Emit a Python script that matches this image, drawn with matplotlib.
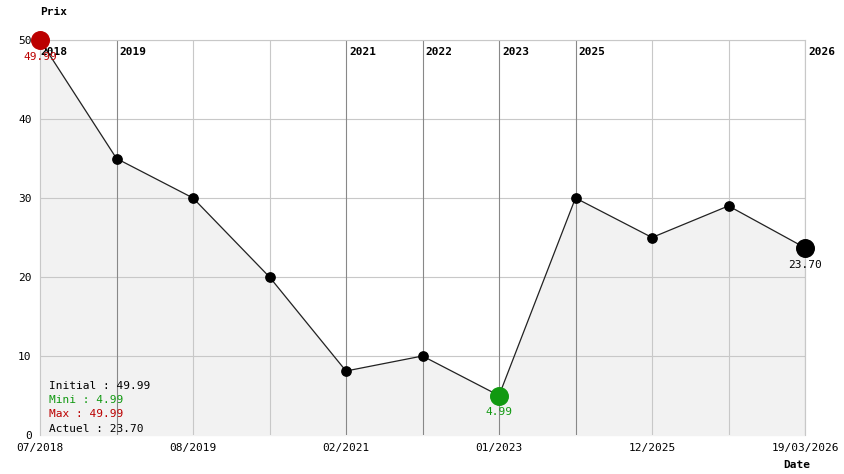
import matplotlib
matplotlib.use("Agg")
import matplotlib.pyplot as plt

prices = [49.99, 35, 30, 20, 8.1, 10, 4.99, 30, 25, 29, 23.70]
year_marks = {1: "2019", 4: "2021", 5: "2022", 6: "2023", 7: "2025", 10: "2026"}
bottom_labels = {0: "07/2018", 2: "08/2019", 4: "02/2021", 6: "01/2023", 8: "12/2025", 10: "19/03/2026"}
imin, imax, ilast = 6, 0, 10

mono = "DejaVu Sans Mono"
fig = plt.figure(figsize=(8.44, 4.74), dpi=100)
ax = fig.add_axes([40/844, 39/474, 765/844, 395/474])
x = list(range(len(prices)))

ax.fill_between(x, prices, 0, color="#f2f2f2", zorder=0)
for v in range(10, 51, 10):
    ax.axhline(v, color="#c8c8c8", lw=0.8, zorder=1)
for i in x[1:]:
    c = "#888888" if i in year_marks else "#c8c8c8"
    ax.axvline(i, color=c, lw=0.8, zorder=1)
for i, lab in year_marks.items():
    ax.text(i + 0.04, 48.5, lab, family=mono, fontsize=8, fontweight="bold", va="center")
ax.text(0.0, 48.5, "2018", family=mono, fontsize=8, fontweight="bold", va="center")

ax.plot(x, prices, color="#222222", lw=0.9, zorder=2)
ax.scatter(x, prices, s=45, color="black", zorder=3)
ax.scatter([imax], [prices[imax]], s=160, color="#bb0000", zorder=4)
ax.scatter([imin], [prices[imin]], s=160, color="#119911", zorder=4)
ax.scatter([ilast], [prices[ilast]], s=160, color="black", zorder=4)
ax.text(imax, prices[imax] - 1.5, f"{prices[imax]:.2f}", color="#bb0000", family=mono, fontsize=8, ha="center", va="top")
ax.text(imin, prices[imin] - 1.5, f"{prices[imin]:.2f}", color="#119911", family=mono, fontsize=8, ha="center", va="top")
ax.text(ilast, prices[ilast] - 1.5, f"{prices[ilast]:.2f}", color="black", family=mono, fontsize=8, ha="center", va="top")

leg = [("Initial : 49.99", "black"), ("Mini : 4.99", "#119911"),
       ("Max : 49.99", "#bb0000"), ("Actuel : 23.70", "black")]
for k, (t, c) in enumerate(leg):
    ax.text(0.12, 6.2 - k * 1.8, t, color=c, family=mono, fontsize=8, va="center")

ax.set_xlim(0, 10)
ax.set_ylim(0, 50)
ax.set_yticks(range(0, 51, 10))
ax.set_xticks(list(bottom_labels.keys()))
ax.set_xticklabels(list(bottom_labels.values()), family=mono, fontsize=8)
for lab in ax.get_yticklabels():
    lab.set_family(mono)
    lab.set_fontsize(8)
ax.tick_params(length=0, pad=6)
for s in ax.spines.values():
    s.set_color("#c8c8c8")
    s.set_linewidth(0.8)
ax.spines["bottom"].set_visible(False)
for s in ax.spines.values():
    s.set_clip_on(False)
ax.set_clip_on(False)
for c in ax.collections:
    c.set_clip_on(False)

fig.text(40/844, 1 - 12/474, "Prix", family=mono, fontsize=8, fontweight="bold", va="center")
fig.text(783/844, 9/474, "Date", family=mono, fontsize=8, fontweight="bold", va="center")
fig.savefig("out.png", dpi=100, facecolor="white")
